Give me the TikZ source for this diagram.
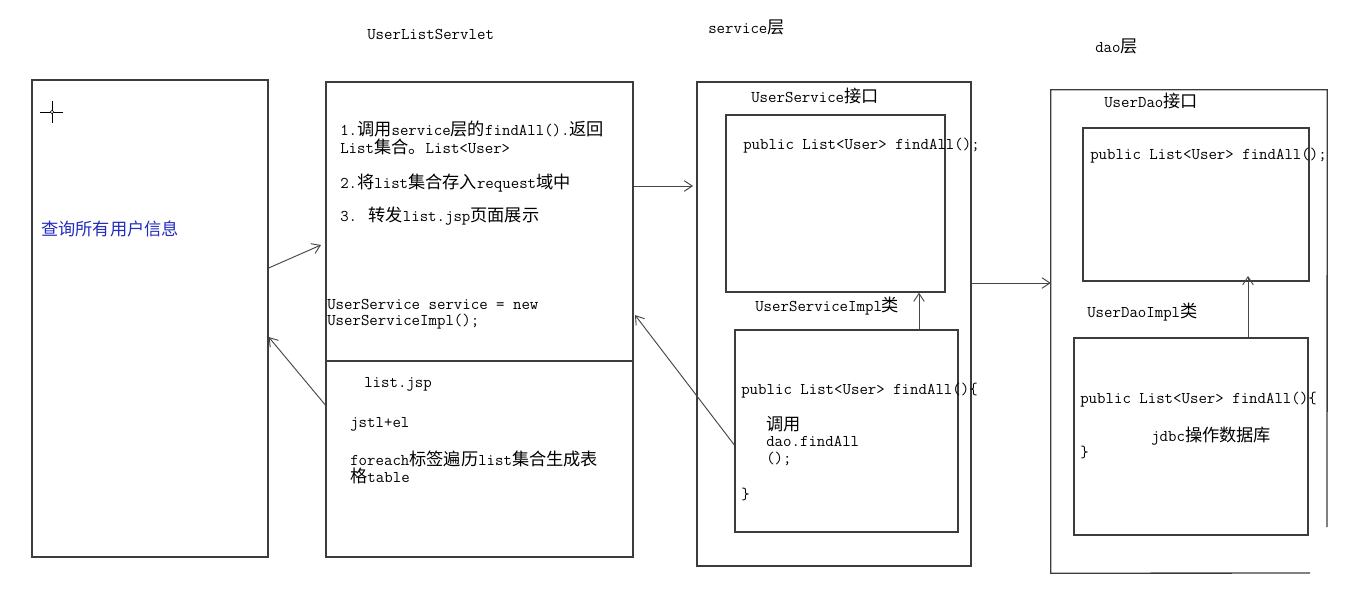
\documentclass[tikz,border=0pt]{standalone}
\usepackage{fontspec}
\newfontfamily\zhfont{Noto Sans CJK SC}[Scale=1.05]
\newcommand\zh[1]{{\zhfont #1}}
\usetikzlibrary{arrows.meta,fit}
\definecolor{boxc}{RGB}{60,60,60}
\definecolor{arrc}{RGB}{70,70,70}
\definecolor{bluetxt}{RGB}{35,45,190}
\begin{document}
\begin{tikzpicture}[x=0.75pt,y=-0.75pt,
  box/.style={draw=boxc, line width=1pt, inner sep=0pt},
  hidebox/.style={inner sep=0pt},
  boxline/.style={draw=boxc, line width=1pt},
  arr/.style={draw=arrc, line width=0.7pt, -{Straight Barb[length=6pt,width=8pt]}},
  txt/.style={anchor=west, inner sep=0pt, font=\fontsize{12.3pt}{13.3pt}\selectfont\ttfamily, text=black},
]
\useasboundingbox[fill=white] (0,0) rectangle (1368,606);

% titles
\node[txt] (tServlet) at (367,34) {UserListServlet};
\node[txt] (tService) at (708,27) {service\zh{层}};
\node[txt] (tDao) at (1095,46) {dao\zh{层}};

% client box
\node[box, fit={(32,80)(268,557)}] (client) {};
\node[txt, text=bluetxt] (cText) at (41,229) {\zh{查询所有用户信息}};
\draw[line width=0.55pt] (40,112) -- (63,112) (52,101) -- (52,123);
\draw[line width=0.5pt, fill=white] (52,112) circle (1.3pt);

% servlet box
\node[box, fit={(326,82)(633,557)}] (servlet) {};
\coordinate (div) at (0,361);
\draw[boxline] (servlet.west |- div) -- (servlet.east |- div);
\node[txt] (s1) at (340,129) {1.\zh{调用}service\zh{层的}findAll().\zh{返回}};
\node[txt] (s2) at (340,147) {List\zh{集合。}List<User>};
\node[txt] (s3) at (340,183) {2.\zh{将}list\zh{集合存入}request\zh{域中}};
\node[txt] (s4) at (340,216) {3. \zh{转发}list.jsp\zh{页面展示}};
\node[txt] (s5) at (327,304) {UserService service = new};
\node[txt] (s6) at (327,322) {UserServiceImpl();};
\node[txt] (s7) at (364,384) {list.jsp};
\node[txt] (s8) at (350,424) {jstl+el};
\node[txt] (s9) at (350,459) {foreach\zh{标签遍历}list\zh{集合生成表}};
\node[txt] (s10) at (350,476) {\zh{格}table};

% service layer
\node[box, fit={(697,82)(971,566)}] (svc) {};
\node[box, fit={(726,115)(945,292)}] (svcI) {};
\node[box, fit={(735,330)(958,532)}] (svcImpl) {};
\node[txt] (v1) at (751,96) {UserService\zh{接口}};
\node[txt] (v2) at (743,146) {public List<User> findAll();};
\node[txt] (v3) at (755,306) {UserServiceImpl\zh{类}};
\node[txt] (v4) at (741,391) {public List<User> findAll()\{};
\node[txt] (v5) at (766,424) {\zh{调用}};
\node[txt] (v6) at (766,441) {dao.findAll};
\node[txt] (v7) at (766,459) {();};
\node[txt] (v8) at (741,494) {\}};

% dao layer
\node[hidebox, fit={(1051,90)(1327,573)}] (dao) {};
\draw[boxline] (1327,527) -- (dao.north east) -- (dao.north west) -- (dao.south west) -- (1310,573);
\node[box, fit={(1083,128)(1309,281)}] (daoI) {};
\node[box, fit={(1074,338)(1308,535)}] (daoImpl) {};
\node[txt] (d1) at (1104,101) {UserDao\zh{接口}};
\node[txt] (d2) at (1090,156) {public List<User> findAll();};
\node[txt] (d3) at (1087,312) {UserDaoImpl\zh{类}};
\node[txt] (d4) at (1080,400) {public List<User> findAll()\{};
\node[txt] (d5) at (1151,436) {jdbc\zh{操作数据库}};
\node[txt] (d6) at (1080,452) {\}};

% connectors
\coordinate (a1s) at (0,268);
\coordinate (a1e) at (321,245);
\draw[arr] (client.east |- a1s) -- (a1e);
\coordinate (a2s) at (0,405);
\coordinate (a2e) at (0,337);
\draw[arr] (servlet.west |- a2s) -- (client.east |- a2e);
\coordinate (a3s) at (0,186);
\coordinate (a3e) at (693,186);
\draw[arr] (servlet.east |- a3s) -- (a3e);
\coordinate (a4s) at (0,445);
\coordinate (a4e) at (635,315);
\draw[arr] (svcImpl.west |- a4s) -- (a4e);
\coordinate (a5) at (919,0);
\draw[arr] (svcImpl.north -| a5) -- (svcI.south -| a5);
\coordinate (a6s) at (0,283);
\draw[arr] (svc.east |- a6s) -- (dao.west |- a6s);
\coordinate (a7) at (1248,276);
\draw[arr] (daoImpl.north -| a7) -- (a7);
\end{tikzpicture}
\end{document}
